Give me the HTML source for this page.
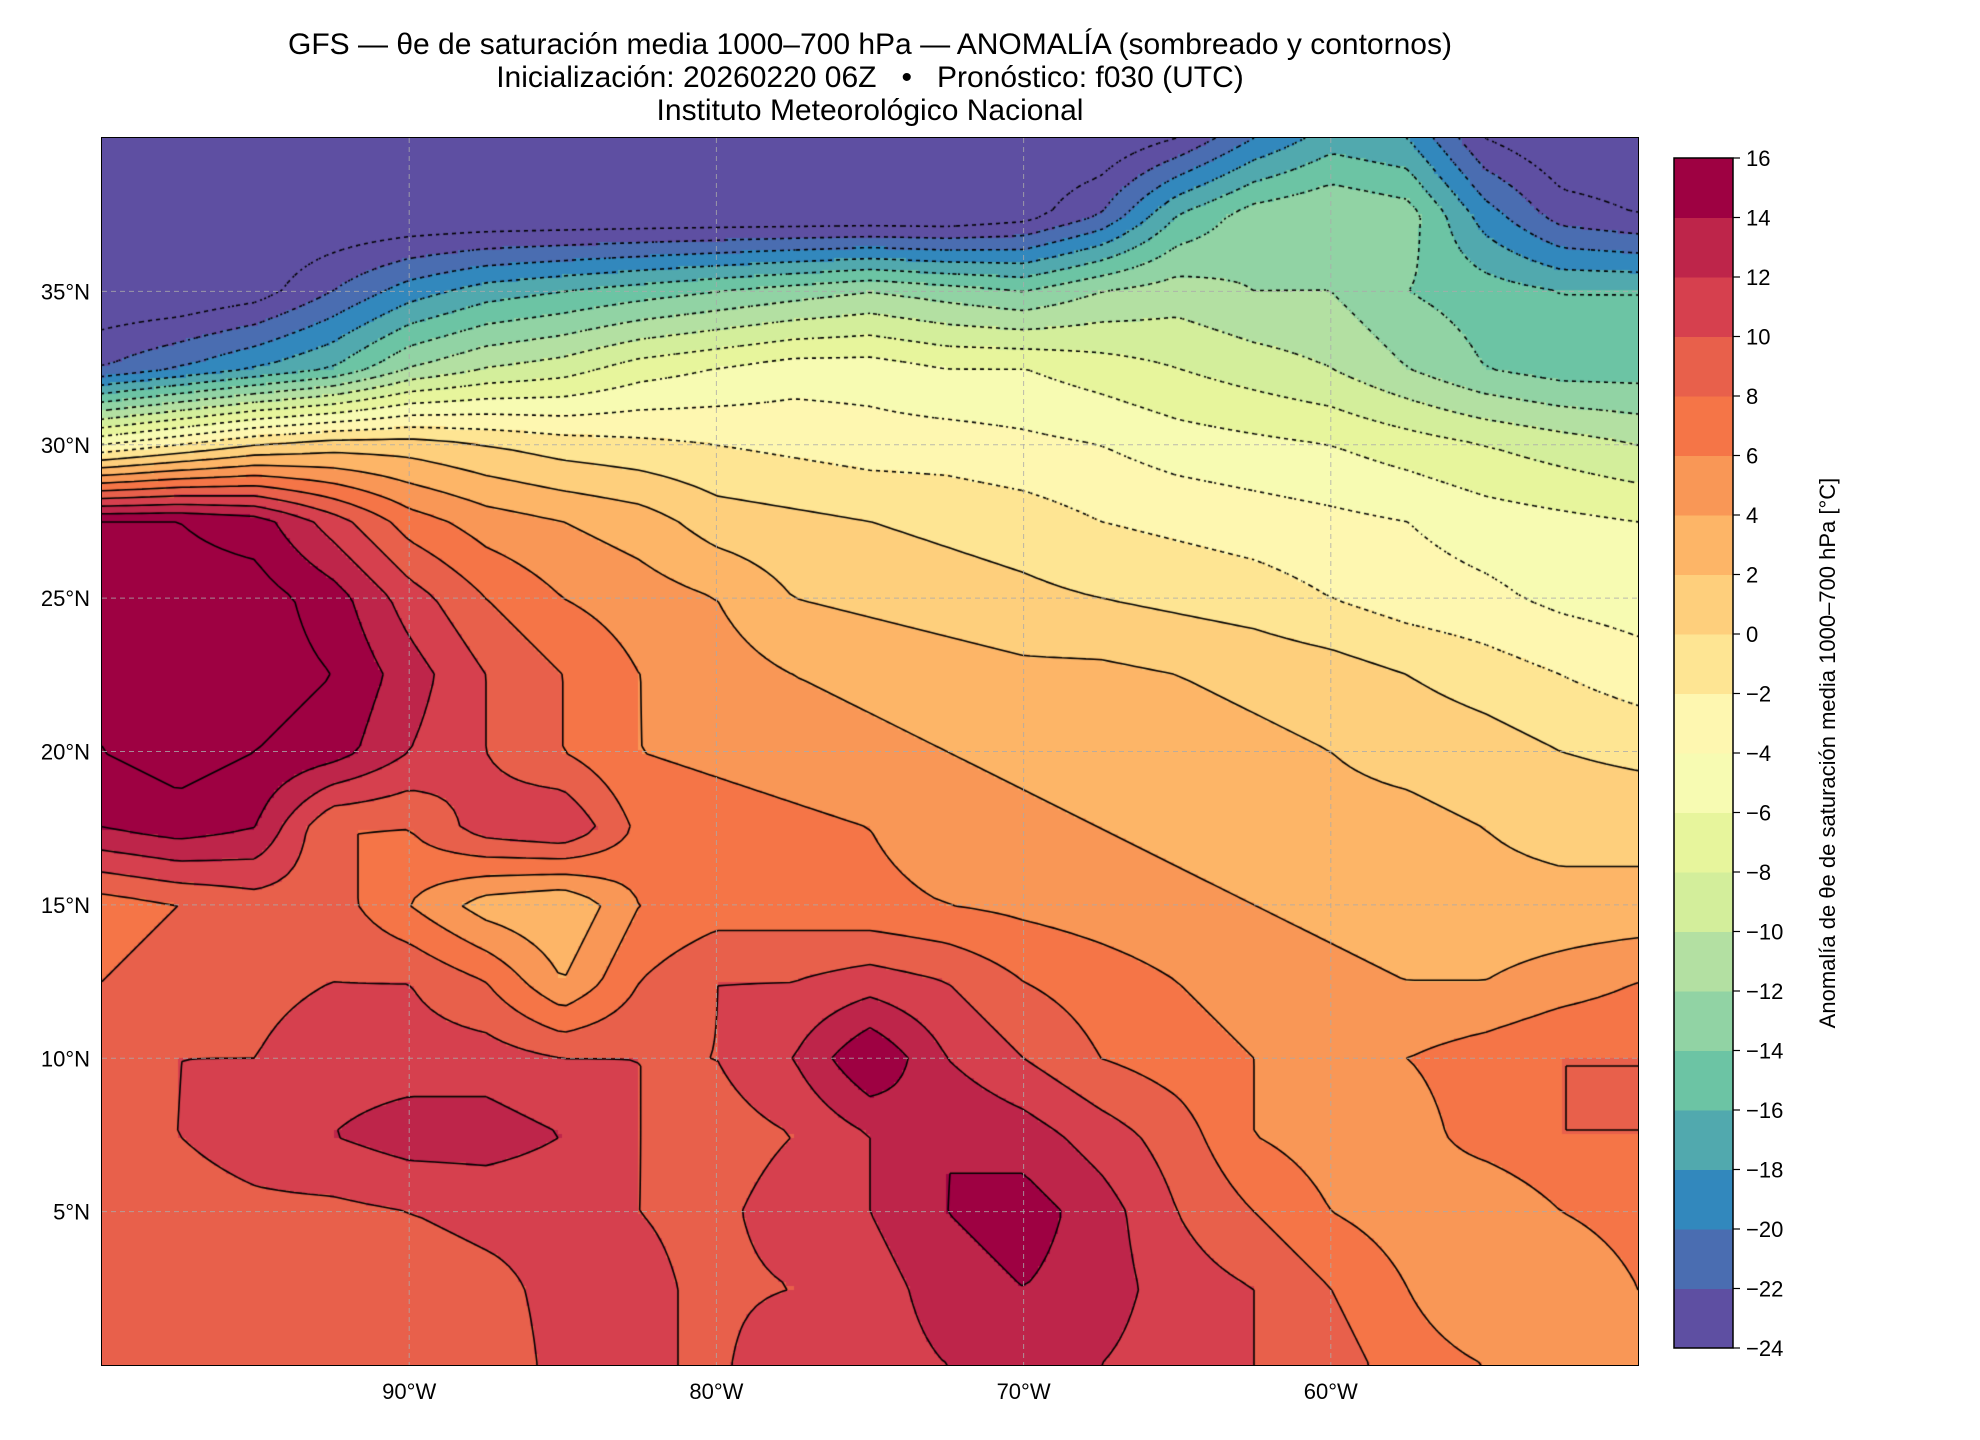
<!DOCTYPE html>
<html><head><meta charset="utf-8">
<style>
html,body{margin:0;padding:0;background:#fff;}
#root{position:relative;width:1980px;height:1440px;font-family:"Liberation Sans","DejaVu Sans",sans-serif;color:#000;overflow:hidden;}
.t{position:absolute;white-space:nowrap;}
</style></head>
<body>
<div id="root">
  <div class="t" style="left:0;width:1740px;text-align:center;top:28px;font-size:30px;line-height:33px;">GFS — θe de saturación media 1000–700 hPa — ANOMALÍA (sombreado y contornos)<br>Inicialización: 20260220 06Z &nbsp; • &nbsp; Pronóstico: f030 (UTC)<br>Instituto Meteorológico Nacional</div>
  <canvas id="map" width="1536" height="1227" style="position:absolute;left:102px;top:138px;"></canvas>
  <div style="position:absolute;left:101px;top:137px;width:1536px;height:1227px;border:1.5px solid #000;"></div>
  <svg id="ax" width="1980" height="1440" style="position:absolute;left:0;top:0;"></svg>
</div>
<script>
const lons=[-100,-97.5,-95,-92.5,-90,-87.5,-85,-82.5,-80,-77.5,-75,-72.5,-70,-67.5,-65,-62.5,-60,-57.5,-55,-52.5,-50];
const lats=[40,37.5,35,32.5,30,27.5,25,22.5,20,17.5,15,12.5,10,7.5,5,2.5,0];
const anom=[
[-26,-26,-26,-26,-26,-26,-26,-26,-26,-26,-26,-26,-26,-26,-24,-20,-17,-18,-24,-26,-26],
[-26,-26,-26,-26,-26,-26,-26,-26,-26,-26,-26,-26,-25,-22,-16,-13,-12,-13,-19,-23,-24],
[-26,-26,-25,-22,-19,-17,-16,-15,-14,-13,-12,-13,-14,-12,-11,-12,-12,-14,-15,-16,-16],
[-22,-20,-18,-16,-12,-10,-9,-7,-6,-5,-5,-6,-6,-7,-8,-9,-10,-12,-14,-15,-15],
[-4,-2,0,1,1,0,-1,-1.5,-2,-2.5,-3,-3,-3.5,-4,-5,-5.5,-6,-7,-8,-9,-10],
[16,16,15,11,7,5,4,3,1,0.5,0,-0.5,-1,-2,-2.5,-3,-3.5,-4,-5,-5.5,-6],
[16,17,17,15,11,8,6,5,4,2,1.5,1,0.5,0,-0.5,-1,-2,-3,-3.5,-4.5,-5],
[16,17,17,16,13,10,8,6,5,4,3.5,3,2.5,2.5,2,1.5,1,0,-1,-2,-3],
[16,17,16,15,12,10,8,6,5.5,5,4.5,4,3.5,3,3,2.5,2,1.5,1,0,-0.5],
[14,15,14,8,8,11,12,7.5,7,6.5,6,5,4.5,4,3.5,3,2.5,2.5,2,1.5,1.5],
[7,8,9,9,6,3,2,6,7,7,6.5,6,5.5,5,4.5,4,3.5,3,2.5,2.5,2.5],
[8,9,9.5,10,10,8,4,8,10,10,11,10,8,7,6,5,4.5,4,4,5,6],
[9,10,10,11,11,11,10,10,10,12,16,12,10,8,7,6,6,6,7,8,8],
[9.5,10,11,12,13,13,12,10,9,10,12,14,13,11,9,6,5,5,7,8,8],
[9,9,9.5,9.5,10,10.5,10.5,10,9.5,11,12,14,15,13,10,8,6,5,4,6,7],
[9,9,9,9,9,9.5,10.5,10.5,9.5,10,11,13,14,13,11,10,8,6,4,4,6],
[8.5,9,9,9,9,9,10.5,10.5,9.5,12,11,12,12,12,11,10,9,7,6,5,6]
];
const levels=[-24,-22,-20,-18,-16,-14,-12,-10,-8,-6,-4,-2,0,2,4,6,8,10,12,14,16];
const bandColors=['#5e4fa2','#4a6db1','#3288bd','#51a9ae','#6cc4a4','#91d3a4','#b3e0a2','#d3ee9b','#e7f59c','#f7fbb2','#fef7b0','#fee593','#fecf7c','#fdb567','#f99756','#f57547','#e8604b','#d6404e','#be254a','#9e0142'];
const lonTicks=[-90,-80,-70,-60];
const latTicks=[5,10,15,20,25,30,35];

const PX=102,PY=138,PW=1536,PH=1227;
function xOf(lon){return PX+(lon+100)/50*PW;}
function yOf(lat){return PY+(40-lat)/40*PH;}
function val(lon,lat){
  let c=(lon-lons[0])/2.5, r=(lats[0]-lat)/2.5;
  c=Math.max(0,Math.min(lons.length-1.0001,c)); r=Math.max(0,Math.min(lats.length-1.0001,r));
  const c0=Math.floor(c), r0=Math.floor(r), fc=c-c0, fr=r-r0;
  const a=anom[r0][c0],b=anom[r0][c0+1],d=anom[r0+1][c0],e=anom[r0+1][c0+1];
  return a*(1-fc)*(1-fr)+b*fc*(1-fr)+d*(1-fc)*fr+e*fc*fr;
}
function colorOf(v){let i=Math.floor((v-levels[0])/2);i=Math.max(0,Math.min(bandColors.length-1,i));return bandColors[i];}

const cv=document.getElementById('map'),ctx=cv.getContext('2d');
const S=4;
for(let py=0;py<PH;py+=S){for(let px=0;px<PW;px+=S){
  const lon=-100+(px+S/2)/PW*50, lat=40-(py+S/2)/PH*40;
  ctx.fillStyle=colorOf(val(lon,lat));ctx.fillRect(px,py,S,S);
}}
const G=8,nx=Math.ceil(PW/G)+1,ny=Math.ceil(PH/G)+1;
const F=[];for(let j=0;j<ny;j++){F.push([]);for(let i=0;i<nx;i++){F[j].push(val(-100+i*G/PW*50,40-j*G/PH*40));}}
ctx.strokeStyle='#000';ctx.lineWidth=1.6;
for(let L=-24;L<=16;L+=2){
  ctx.setLineDash(L<0?[2,4]:[]);ctx.beginPath();
  for(let j=0;j<ny-1;j++)for(let i=0;i<nx-1;i++){
    const v=[F[j][i],F[j][i+1],F[j+1][i+1],F[j+1][i]];
    const p=[[i*G,j*G],[(i+1)*G,j*G],[(i+1)*G,(j+1)*G],[i*G,(j+1)*G]];
    const pts=[];
    for(let k=0;k<4;k++){const a=v[k],b=v[(k+1)%4];
      if((a<L)!==(b<L)){const t=(L-a)/(b-a);pts.push([p[k][0]+t*(p[(k+1)%4][0]-p[k][0]),p[k][1]+t*(p[(k+1)%4][1]-p[k][1])]);}}
    for(let k=0;k+1<pts.length;k+=2){ctx.moveTo(pts[k][0],pts[k][1]);ctx.lineTo(pts[k+1][0],pts[k+1][1]);}
  }
  ctx.stroke();
}
ctx.setLineDash([]);

const svg=document.getElementById('ax'),NS='http://www.w3.org/2000/svg';
function mk(tag,attrs,parent){const e=document.createElementNS(NS,tag);for(const k in attrs)e.setAttribute(k,attrs[k]);(parent||svg).appendChild(e);return e;}
lonTicks.forEach(l=>{
  const g=mk('line',{x1:xOf(l),x2:xOf(l),y1:PY,y2:PY+PH,stroke:'#aaa','stroke-width':1,'stroke-dasharray':'5,4','stroke-opacity':0.8});
  
  
  const t=mk('text',{x:xOf(l),y:PY+PH+34,'text-anchor':'middle','font-size':22,'font-family':'Liberation Sans, sans-serif'});
  t.textContent=Math.abs(l)+'°W';
  
  
});
latTicks.forEach(l=>{
  const g=mk('line',{x1:PX,x2:PX+PW,y1:yOf(l),y2:yOf(l),stroke:'#aaa','stroke-width':1,'stroke-dasharray':'5,4','stroke-opacity':0.8});
  
  
  const t=mk('text',{x:PX-12,y:yOf(l)+8,'text-anchor':'end','font-size':22,'font-family':'Liberation Sans, sans-serif'});
  t.textContent=l+'°N';
  
  
});
const CX=1674,CW=59,CT=158,CB=1348,ch=(CB-CT)/bandColors.length;
bandColors.forEach((c,i)=>{
  const r=mk('rect',{x:CX,y:CB-(i+1)*ch,width:CW,height:ch+0.5,fill:c});
  
  
});
const fr=mk('rect',{x:CX,y:CT,width:CW,height:CB-CT,fill:'none',stroke:'#000','stroke-width':1.5});


levels.forEach((L,i)=>{
  const y=CB-i*ch;
  mk('line',{x1:CX+CW,x2:CX+CW+7,y1:y,y2:y,stroke:'#000','stroke-width':1.2});
  const t=mk('text',{x:CX+CW+13,y:y+8,'font-size':22,'font-family':'Liberation Sans, sans-serif'});
  t.textContent=L<0?'−'+Math.abs(L):String(L);
  
  
});
const cl=mk('text',{x:0,y:0,'font-size':22,'text-anchor':'middle','font-family':'Liberation Sans, sans-serif',transform:'translate(1835,753) rotate(-90)'});
cl.textContent='Anomalía de θe de saturación media 1000–700 hPa [°C]';


</script>
</body></html>
